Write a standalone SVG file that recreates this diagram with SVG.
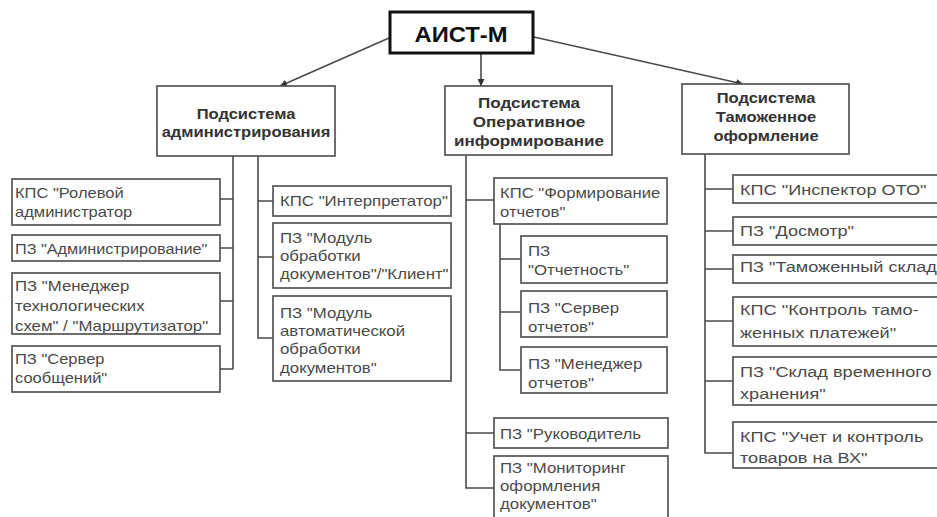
<svg xmlns="http://www.w3.org/2000/svg" width="937" height="517" viewBox="0 0 937 517">
<style>
.bg{fill:#fff}
.box{fill:#fff;stroke:#555;stroke-width:1.7}
.top{fill:#fff;stroke:#111;stroke-width:3}
.t{font-family:"Liberation Sans",Arial,sans-serif;font-size:14px;fill:#4a4a4a}
.tr{font-family:"Liberation Sans",Arial,sans-serif;font-size:15px;fill:#4a4a4a}
.h{font-family:"Liberation Sans",Arial,sans-serif;font-size:14px;font-weight:bold;fill:#333;text-anchor:middle}
.title{font-family:"Liberation Sans",Arial,sans-serif;font-size:22px;font-weight:bold;fill:#111;text-anchor:middle}
.c{fill:none;stroke:#4a4a4a;stroke-width:1.6}
</style>
<defs>
<marker id="ar" viewBox="0 0 10 10" refX="10" refY="5" markerWidth="7" markerHeight="7" orient="auto-start-reverse" markerUnits="userSpaceOnUse">
<path d="M0,0 L10,5 L0,10 z" fill="#333"/>
</marker>
</defs>
<rect class="bg" x="0" y="0" width="937" height="517"/>
<g id="connectors">
<line class="c" x1="389" y1="38" x2="280" y2="86" marker-end="url(#ar)"/>
<line class="c" x1="481" y1="54" x2="481" y2="86" marker-end="url(#ar)"/>
<line class="c" x1="534" y1="37" x2="743" y2="84" marker-end="url(#ar)"/>
<path class="c" d="M233,156 V369 M220,199 H233 M220,248 H233 M220,301 H233 M220,369 H233"/>
<path class="c" d="M258,156 V338 H273 M258,201 H273 M258,257 H273"/>
<path class="c" d="M466,155 V488 H494 M466,200 H494 M466,433 H494"/>
<path class="c" d="M500,224 V370 H521 M500,259 H521 M500,312 H521"/>
<path class="c" d="M705,154 V453 H733 M705,189 H733 M705,231 H733 M705,269 H733 M705,321 H733 M705,381 H733"/>
</g>
<g id="aist">
<rect class="top" x="390" y="12" width="143" height="41"/>
<g transform="translate(461,0) scale(1.08,1)"><text class="title" x="0" y="42">АИСТ-М</text></g>
</g>
<g id="sub-admin">
<rect class="box" x="157" y="86" width="178" height="70"/>
<g transform="translate(246,0) scale(1.18,1)">
<text class="h" x="0" y="119">Подсистема</text>
<text class="h" x="0" y="137">администрирования</text>
</g>
</g>
<g id="sub-oper">
<rect class="box" x="445" y="86" width="167" height="69"/>
<g transform="translate(529,0) scale(1.22,1)">
<text class="h" x="0" y="108">Подсистема</text>
<text class="h" x="0" y="127">Оперативное</text>
<text class="h" x="0" y="146">информирование</text>
</g>
</g>
<g id="sub-custom">
<rect class="box" x="682" y="84" width="167" height="70"/>
<g transform="translate(766,0) scale(1.18,1)">
<text class="h" x="0" y="103">Подсистема</text>
<text class="h" x="0" y="122">Таможенное</text>
<text class="h" x="0" y="141">оформление</text>
</g>
</g>
<g id="a1">
<rect class="box" x="12" y="179" width="208" height="46"/>
<g transform="translate(15,0) scale(1.18,1)">
<text class="t" x="0" y="198">КПС "Ролевой</text>
<text class="t" x="0" y="217">администратор</text>
</g>
</g>
<g id="a2">
<rect class="box" x="12" y="235" width="208" height="26"/>
<g transform="translate(15,0) scale(1.16,1)">
<text class="t" x="0" y="254">ПЗ "Администрирование"</text>
</g>
</g>
<g id="a3">
<rect class="box" x="12" y="273" width="208" height="61"/>
<g transform="translate(15,0) scale(1.2,1)">
<text class="t" x="0" y="291">ПЗ "Менеджер</text>
<text class="t" x="0" y="311">технологических</text>
<text class="t" x="0" y="331">схем" / "Маршрутизатор"</text>
</g>
</g>
<g id="a4">
<rect class="box" x="12" y="346" width="208" height="46"/>
<g transform="translate(15,0) scale(1.18,1)">
<text class="t" x="0" y="364">ПЗ "Сервер</text>
<text class="t" x="0" y="383">сообщений"</text>
</g>
</g>
<g id="a5">
<rect class="box" x="273" y="186" width="178" height="30"/>
<g transform="translate(280,0) scale(1.2,1)">
<text class="t" x="0" y="206">КПС "Интерпретатор"</text>
</g>
</g>
<g id="a6">
<rect class="box" x="273" y="223" width="178" height="65"/>
<g transform="translate(280,0) scale(1.2,1)">
<text class="t" x="0" y="243">ПЗ "Модуль</text>
<text class="t" x="0" y="261">обработки</text>
<text class="t" x="0" y="279">документов"/"Клиент"</text>
</g>
</g>
<g id="a7">
<rect class="box" x="273" y="296" width="178" height="85"/>
<g transform="translate(280,0) scale(1.2,1)">
<text class="t" x="0" y="318">ПЗ "Модуль</text>
<text class="t" x="0" y="336">автоматической</text>
<text class="t" x="0" y="354">обработки</text>
<text class="t" x="0" y="373">документов"</text>
</g>
</g>
<g id="o1">
<rect class="box" x="494" y="178" width="173" height="46"/>
<g transform="translate(500,0) scale(1.19,1)">
<text class="t" x="0" y="198">КПС "Формирование</text>
<text class="t" x="0" y="217">отчетов"</text>
</g>
</g>
<g id="o2">
<rect class="box" x="521" y="236" width="146" height="47"/>
<g transform="translate(528,0) scale(1.2,1)">
<text class="t" x="0" y="256">ПЗ</text>
<text class="t" x="0" y="275">"Отчетность"</text>
</g>
</g>
<g id="o3">
<rect class="box" x="521" y="291" width="146" height="46"/>
<g transform="translate(528,0) scale(1.2,1)">
<text class="t" x="0" y="313">ПЗ "Сервер</text>
<text class="t" x="0" y="332">отчетов"</text>
</g>
</g>
<g id="o4">
<rect class="box" x="521" y="347" width="146" height="46"/>
<g transform="translate(528,0) scale(1.2,1)">
<text class="t" x="0" y="369">ПЗ "Менеджер</text>
<text class="t" x="0" y="388">отчетов"</text>
</g>
</g>
<g id="o5">
<rect class="box" x="494" y="418" width="174" height="30"/>
<g transform="translate(500,0) scale(1.2,1)">
<text class="t" x="0" y="439">ПЗ "Руководитель</text>
</g>
</g>
<g id="o6">
<rect class="box" x="494" y="456" width="174" height="70"/>
<g transform="translate(500,0) scale(1.2,1)">
<text class="t" x="0" y="473">ПЗ "Мониторинг</text>
<text class="t" x="0" y="491">оформления</text>
<text class="t" x="0" y="509">документов"</text>
</g>
</g>
<g id="c1">
<rect class="box" x="733" y="175" width="212" height="28"/>
<g transform="translate(740,0) scale(1.21,1)">
<text class="tr" x="0" y="195">КПС "Инспектор ОТО"</text>
</g>
</g>
<g id="c2">
<rect class="box" x="733" y="217" width="212" height="28"/>
<g transform="translate(740,0) scale(1.21,1)">
<text class="tr" x="0" y="236">ПЗ "Досмотр"</text>
</g>
</g>
<g id="c3">
<rect class="box" x="733" y="255" width="212" height="28"/>
<g transform="translate(740,0) scale(1.21,1)">
<text class="tr" x="0" y="272">ПЗ "Таможенный склад</text>
</g>
</g>
<g id="c4">
<rect class="box" x="733" y="297" width="212" height="49"/>
<g transform="translate(740,0) scale(1.21,1)">
<text class="tr" x="0" y="315">КПС "Контроль тамо-</text>
<text class="tr" x="0" y="338">женных платежей"</text>
</g>
</g>
<g id="c5">
<rect class="box" x="733" y="357" width="212" height="48"/>
<g transform="translate(740,0) scale(1.21,1)">
<text class="tr" x="0" y="377">ПЗ "Склад временного</text>
<text class="tr" x="0" y="399">хранения"</text>
</g>
</g>
<g id="c6">
<rect class="box" x="733" y="422" width="212" height="46"/>
<g transform="translate(740,0) scale(1.21,1)">
<text class="tr" x="0" y="442">КПС "Учет и контроль</text>
<text class="tr" x="0" y="463">товаров на ВХ"</text>
</g>
</g>
</svg>
